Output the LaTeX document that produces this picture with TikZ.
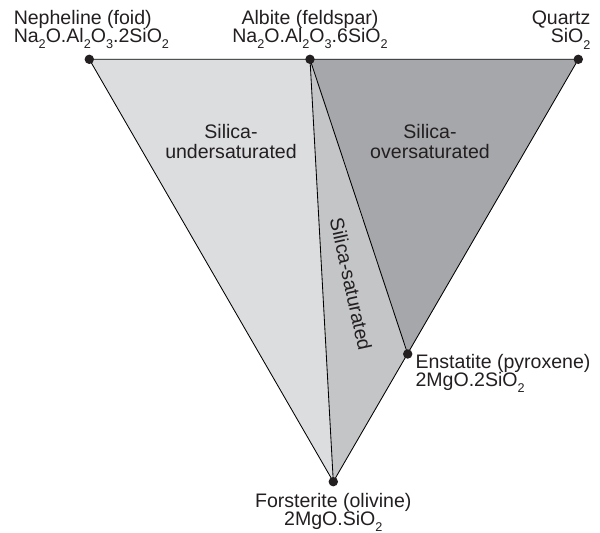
\documentclass[tikz,border=0pt]{standalone}
\usepackage{fontspec}
\setmainfont{Liberation Sans}
\usepackage{xcolor}
\usepackage{tikz}
\usetikzlibrary{positioning, backgrounds}
\definecolor{inkgray}{HTML}{231F20}
\definecolor{underfill}{HTML}{DCDDDF}
\definecolor{satfill}{HTML}{C4C5C7}
\definecolor{overfill}{HTML}{A6A7AA}
\setlength{\lineskiplimit}{-20pt}
\newcommand{\chsub}[1]{\raisebox{-4.5pt}{\fontsize{9}{9}\selectfont #1}}
\tikzset{
  mineral/.style={
    circle, fill=inkgray, inner sep=0pt, minimum size=0.235cm
  },
  minlabel/.style={
    inner sep=0pt, text=inkgray, font=\fontsize{13.9pt}{12.8pt}\selectfont
  },
  fieldlabel/.style={
    inner sep=0pt, text=inkgray, align=center,
    font=\fontsize{13.9pt}{14.5pt}\selectfont
  },
  tieline/.style={draw=black, line width=0.6pt, line join=round},
}
\begin{document}
\begin{tikzpicture}[x=0.025cm, y=-0.025cm]
  \useasboundingbox (0,0) rectangle (600,533);

  % --- Endmembers ---
  \node[mineral] (neph)  at (89.3,59.3)   {};
  \node[mineral] (alb)   at (310,59.3)    {};
  \node[mineral] (qtz)   at (578.3,59.3)  {};
  \node[mineral] (enst)  at (407.7,354)   {};
  \node[mineral] (forst) at (333.3,481.7) {};

  % --- Fields and tie lines ---
  \begin{scope}[on background layer]
    \fill[underfill] (neph.center) -- (alb.center) -- (forst.center) -- cycle;
    \fill[satfill] (alb.center) -- (enst.center) -- (forst.center) -- cycle;
    \fill[overfill] (alb.center) -- (qtz.center) -- (enst.center) -- cycle;
    \draw[tieline] (neph.center) -- (qtz.center) -- (forst.center) -- cycle;
    \draw[tieline] (alb.center) -- (forst.center);
    \draw[tieline] (alb.center) -- (enst.center);
  \end{scope}

  % --- Mineral labels ---
  \node[minlabel, align=left, above=0.125cm of neph, anchor=south west,
        xshift=-1.895cm] (nephlbl)
    {Nepheline (foid)\\Na\chsub{2}O.Al\chsub{2}O\chsub{3}.2SiO\chsub{2}};
  \node[minlabel, align=center, above=0.125cm of alb] (alblbl)
    {Albite (feldspar)\\Na\chsub{2}O.Al\chsub{2}O\chsub{3}.6SiO\chsub{2}};
  \node[minlabel, align=right, above=0.125cm of qtz, anchor=south east,
        xshift=0.31cm] (qtzlbl)
    {Quartz\\SiO\chsub{2}};
  \node[minlabel, align=left, right=0.065cm of enst, anchor=north west]
    (enstlbl) {Enstatite (pyroxene)\\2MgO.2SiO\chsub{2}};
  \node[minlabel, align=center, below=0.148cm of forst] (forstlbl)
    {Forsterite (olivine)\\2MgO.SiO\chsub{2}};

  % --- Field labels ---
  \node[fieldlabel] (underlbl) at (231,141.7) {Silica-\\undersaturated};
  \node[fieldlabel] (overlbl)  at (430,141.7) {Silica-\\oversaturated};
  \node[fieldlabel, rotate=-77.6] (satlbl) at (351,284) {Silica-saturated};

\end{tikzpicture}
\end{document}
